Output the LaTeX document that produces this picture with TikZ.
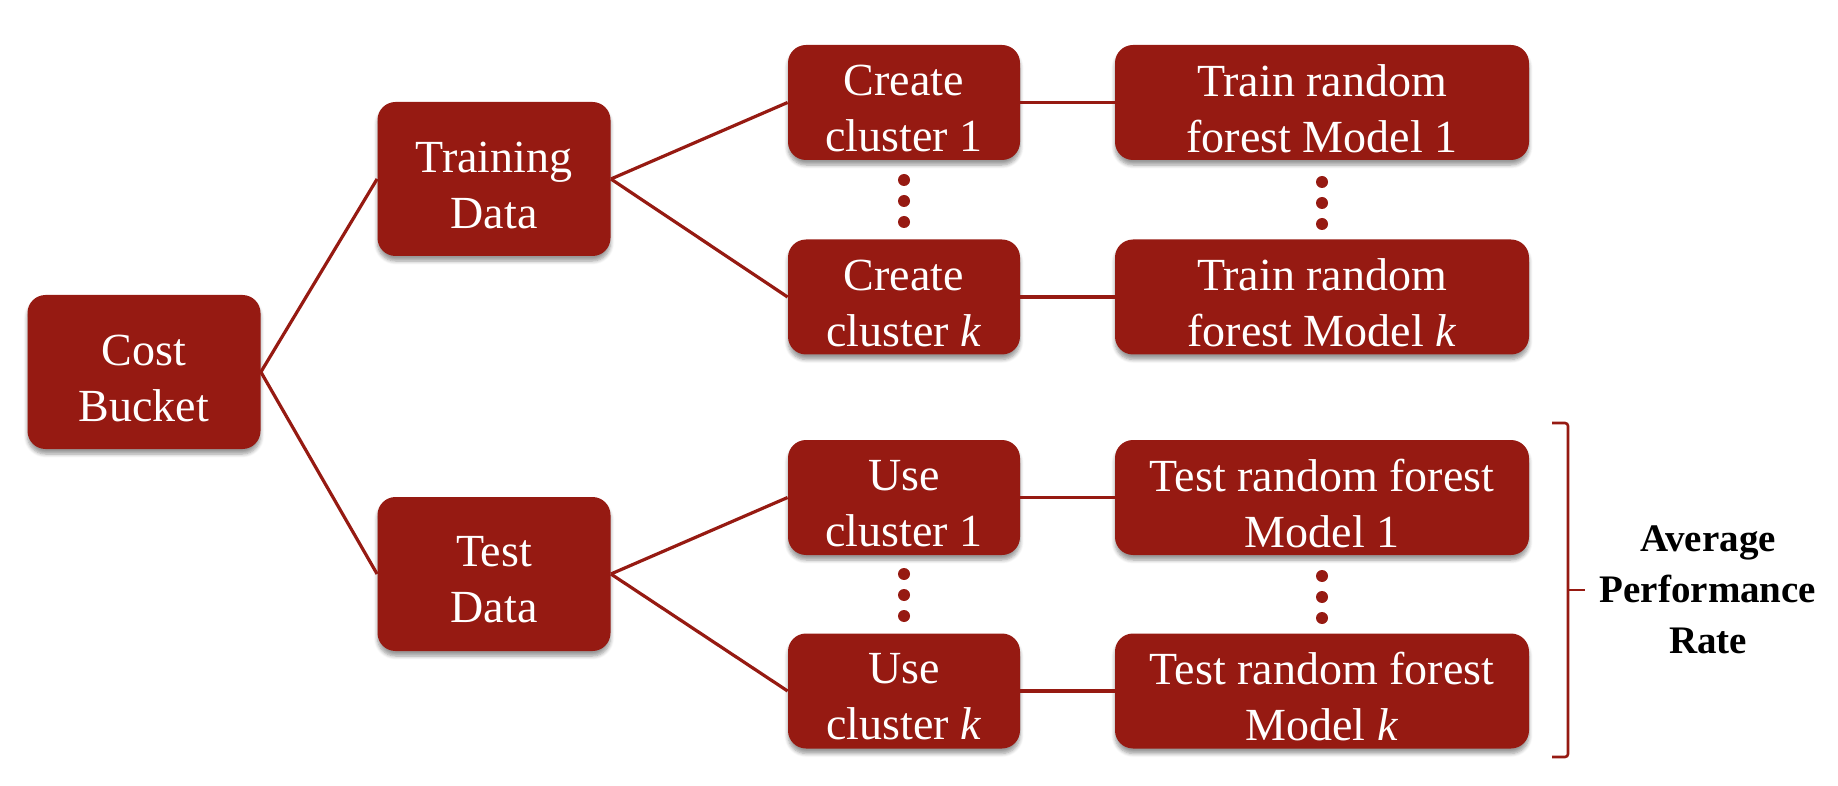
\documentclass[tikz,border=0pt]{standalone}
\usepackage{fontspec}
\setmainfont{Liberation Serif}
\usepackage{xcolor}
\usetikzlibrary{shadows.blur}
\definecolor{boxred}{RGB}{150,26,18}
\begin{document}
\begin{tikzpicture}[x=0.5pt,y=-0.5pt,
  box/.style={fill=boxred, rounded corners=9pt, inner sep=0pt,
    blur shadow={shadow xshift=0pt, shadow yshift=-2.5pt, shadow blur steps=6, shadow opacity=40}},
  btext/.style={text=white, align=center, font=\fontsize{23}{28}\selectfont, inner sep=0pt, yshift=-3pt},
  smallbox/.style={box, minimum width=116pt, minimum height=57.5pt},
  midbox/.style={box, minimum width=116.5pt, minimum height=77pt},
  widebox/.style={box, minimum width=207pt, minimum height=57.5pt},
  link/.style={draw=boxred, line width=1.6pt},
  vdot/.style={circle, fill=boxred, inner sep=0pt, minimum size=6pt}]
\useasboundingbox (0,0) rectangle (1838,786);
% nodes
\node[midbox, label={[btext]center:{Cost\\Bucket}}] (cost) at (144,372) {};
\node[midbox, label={[btext]center:{Training\\Data}}] (train) at (494,179) {};
\node[midbox, label={[btext]center:{Test\\Data}}] (test) at (494,574) {};
\node[smallbox, label={[btext]center:{Create\\cluster 1}}] (cc1) at (904,102.5) {};
\node[smallbox, label={[btext]center:{Create\\cluster \textit{k}}}] (cck) at (904,297) {};
\node[widebox, label={[btext]center:{Train random\\forest Model 1}}] (tr1) at (1322,102.5) {};
\node[widebox, label={[btext]center:{Train random\\forest Model \textit{k}}}] (trk) at (1322,297) {};
\node[smallbox, label={[btext]center:{Use\\cluster 1}}] (uc1) at (904,497.5) {};
\node[smallbox, label={[btext]center:{Use\\cluster \textit{k}}}] (uck) at (904,691) {};
\node[widebox, label={[btext]center:{Test random forest\\Model 1}}] (te1) at (1322,497.5) {};
\node[widebox, label={[btext]center:{Test random forest\\Model \textit{k}}}] (tek) at (1322,691) {};
% connectors
\draw[link] (cost.east) -- (train.west);
\draw[link] (cost.east) -- (test.west);
\draw[link] (train.east) -- (cc1.west);
\draw[link] (train.east) -- (cck.west);
\draw[link] (test.east) -- (uc1.west);
\draw[link] (test.east) -- (uck.west);
\draw[link] (cc1.east) -- (tr1.west);
\draw[link] (cck.east) -- (trk.west);
\draw[link] (uc1.east) -- (te1.west);
\draw[link] (uck.east) -- (tek.west);
% vertical dots
\foreach \cx/\cy/\nm in {904/201/a, 1322/203/b, 904/595/c, 1322/597/d}{
  \node[vdot] (\nm1) at (\cx,\cy-21) {};
  \node[vdot] (\nm2) at (\cx,\cy) {};
  \node[vdot] (\nm3) at (\cx,\cy+21) {};
}
% bracket
\draw[boxred, line width=1.3pt, rounded corners=1.5pt] (1552,423) -- (1568,423) -- (1568,757) -- (1552,757);
\draw[boxred, line width=1.3pt] (1568,590) coordinate (tip0) -- (1585,590) coordinate (tip);
\node[font=\bfseries\fontsize{19.5}{25.5}\selectfont, align=center, inner sep=0pt] (avg) at (1708,590) {Average\\Performance\\Rate};
\end{tikzpicture}
\end{document}
